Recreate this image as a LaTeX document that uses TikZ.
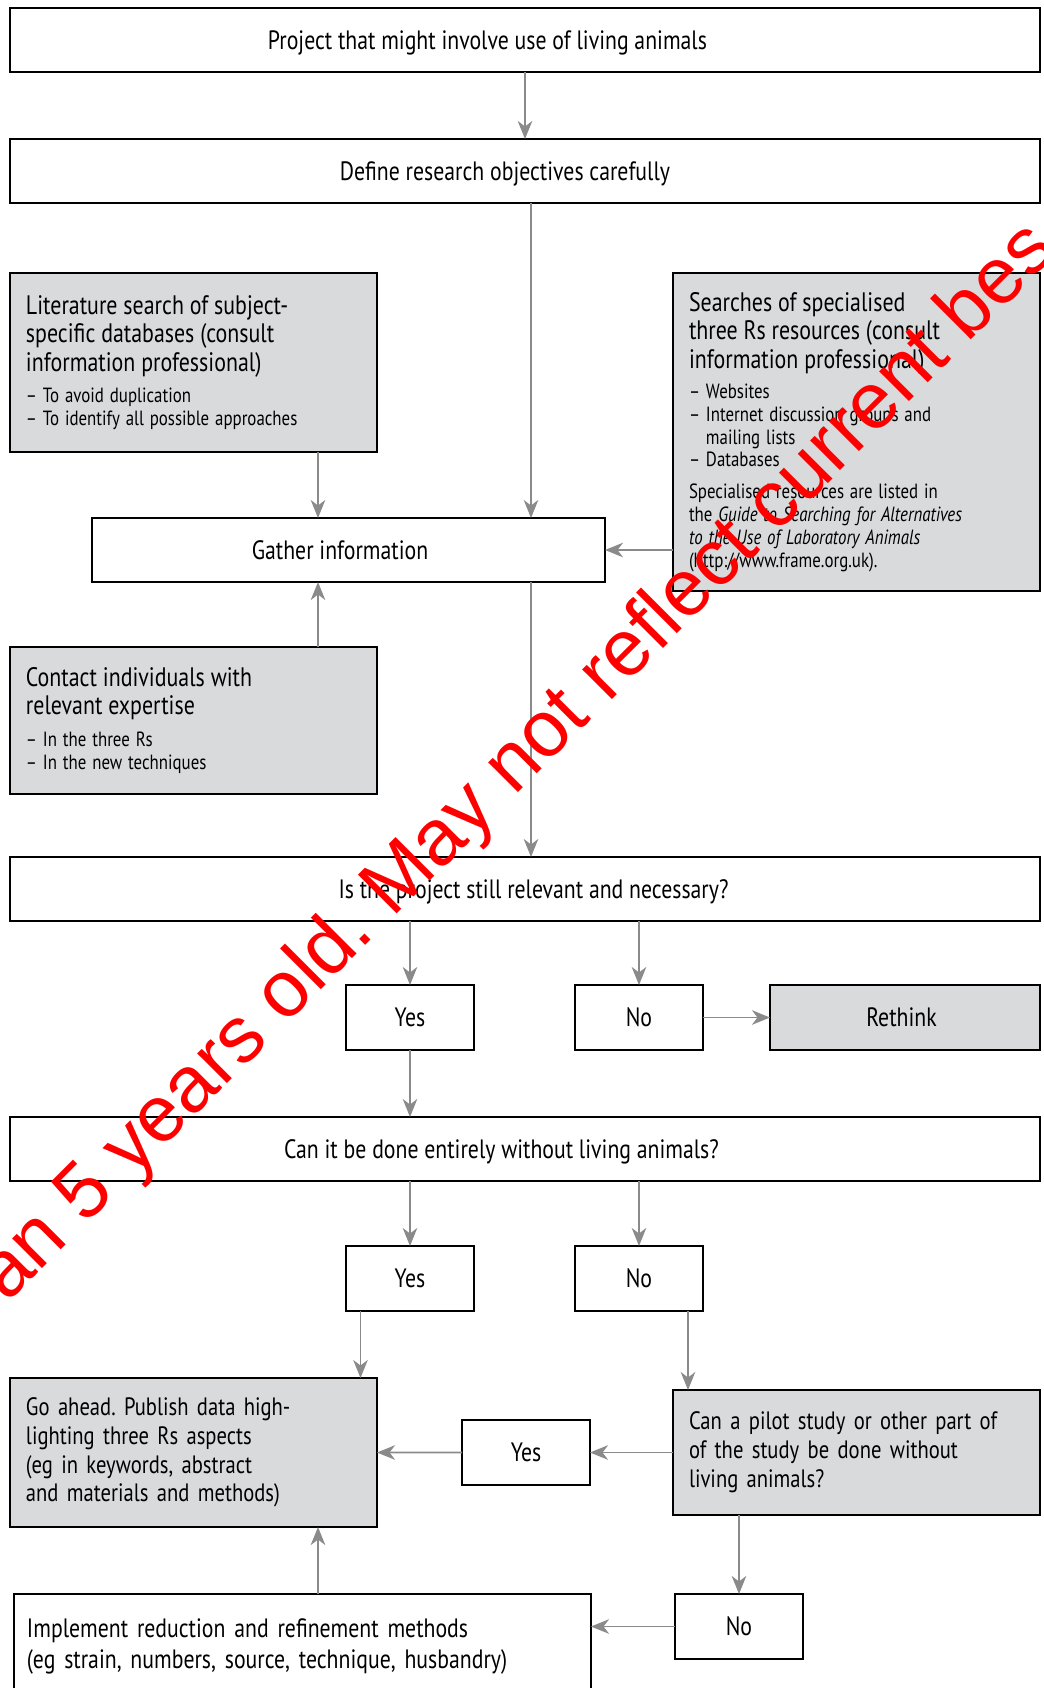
\documentclass[tikz,border=0pt]{standalone}
\usepackage{fontspec}
\setmainfont{PT Sans}[FakeStretch=0.82]
\newfontfamily\stampfont{Liberation Sans}
\usetikzlibrary{positioning,arrows.meta}
\frenchspacing

\definecolor{boxgrey}{RGB}{217,218,220}
\definecolor{arrowgrey}{RGB}{138,138,138}

\newcommand{\boxtext}{\fontsize{15.1}{17.5}\selectfont}
\newcommand{\longtext}{\fontsize{14.3}{16.4}\selectfont}
\newcommand{\headtext}{\fontsize{15.2}{16.2}\selectfont}
\newcommand{\notetext}{\fontsize{11.7}{13}\selectfont}

\begin{document}
\begin{tikzpicture}
            \useasboundingbox (0,0) rectangle (20.88,-33.76);
            % Define styles
            \tikzstyle{block} = [rectangle, draw, line width=1.3pt, outer sep=0pt, fill=white, minimum width=20.6cm, minimum height=1.28cm, text depth=0pt, text centered, font=\boxtext]
            \tikzstyle{greybox} = [rectangle, draw, line width=1.3pt, outer sep=0pt, fill=boxgrey, text width=6.7cm, inner xsep=0.32cm, align=left]
            \tikzstyle{answer} = [rectangle, draw, line width=1.3pt, outer sep=0pt, fill=white, minimum width=2.56cm, minimum height=1.3cm, text depth=0pt, text centered, font=\boxtext]
            \tikzstyle{arrow} = [line width=1.1pt, draw=arrowgrey, -{Stealth[length=3.6mm, width=2.9mm, inset=1.1mm]}]

            % TOP OF THE CHART
            \node (project) [block] at (10.5,-0.8) {\hspace*{-1.5cm}Project that might involve use of living animals};

            \node (define) [block, below=1.34cm of project] {\hspace*{-0.8cm}Define research objectives carefully};

            % Sources of information
            \node (lit) [greybox, minimum height=3.58cm, below=1.4cm of define.south west, anchor=north west]
                  {{\headtext Literature search of subject-\\ specific databases (consult\\ information professional)\par}\vspace{5pt}
                   {\notetext -- To avoid duplication\\ -- To identify all possible approaches\par}};

            \node (search) [greybox, minimum height=6.36cm, below=1.4cm of define.south east, anchor=north east]
                  {{\headtext Searches of specialised\\ three Rs resources (consult\\ information professional)\par}\vspace{4pt}
                   {\notetext -- Websites\\ -- Internet discussion groups and\\ \hphantom{-- }mailing lists\\ -- Databases\par}\vspace{5pt}
                   {\notetext Specialised resources are listed in\\ the \textit{Guide to Searching for Alternatives}\\ \textit{to the Use of Laboratory Animals}\\ (http://www.frame.org.uk).\par}};

            \node (gather) [block, minimum width=10.26cm, below=1.32cm of lit.south west, anchor=north west, xshift=1.64cm] {\hspace*{-0.34cm}Gather information};

            \node (contact) [greybox, minimum height=2.94cm, below=1.3cm of gather.south west, anchor=north west, xshift=-1.64cm]
                  {{\headtext Contact individuals with\\ relevant expertise\par}\vspace{5pt}
                   {\notetext -- In the three Rs\\ -- In the new techniques\par}};

            % First question
            \node (q1) [block, below=1.26cm of contact.south west, anchor=north west] {\hspace*{0.34cm}Is the project still relevant and necessary?};

            \node (yes1) [answer, below=1.28cm of q1, xshift=-2.3cm] {Yes};
            \node (no1) [answer, right=2.02cm of yes1] {No};
            \node (rethink) [greybox, text width=, minimum width=5.4cm, minimum height=1.3cm, text depth=0pt, text centered, font=\boxtext, right=1.34cm of no1] {\hspace*{-0.14cm}Rethink};

            % Second question
            \node (q2) [block, below=3.92cm of q1] {\hspace*{-0.94cm}Can it be done entirely without living animals?};

            \node (yes2) [answer, below=1.3cm of q2, xshift=-2.3cm] {Yes};
            \node (no2) [answer, right=2.02cm of yes2] {No};

            % OUTCOMES
            \node (goahead) [greybox, font=\longtext, minimum height=2.98cm, below=3.94cm of q2.south west, anchor=north west]
                  {Go ahead. Publish data high-\\ lighting three Rs aspects\\ (eg in keywords, abstract\\ and materials and methods)};

            \node (pilot) [greybox, font=\longtext, minimum height=2.5cm, below=4.18cm of q2.south east, anchor=north east]
                  {Can a pilot study or other part of\\ of the study be done without\\ living animals?};

            \node (yes3) [answer, left=1.66cm of pilot] {Yes};
            \node (no3) [answer, below=1.58cm of pilot.south west, anchor=north west, xshift=0.04cm] {No};

            \node (implement) [greybox, fill=white, font=\boxtext, text width=11.02cm, inner xsep=0.26cm, minimum height=2.1cm, left=1.68cm of no3.north west, anchor=north east]
                  {Implement reduction and refinement methods\\ (eg strain, numbers, source, technique, husbandry)};

            % Arrows of the upper part
            \draw [arrow] (project) -- (define);
            \draw [arrow] ([xshift=3.65cm]gather.north |- define.south) -- ([xshift=3.65cm]gather.north);
            \draw [arrow] ([xshift=-0.61cm]gather.north |- lit.south) -- ([xshift=-0.61cm]gather.north);
            \draw [arrow] (search.west |- gather.east) -- (gather.east);
            \draw [arrow] ([xshift=-0.61cm]gather.south |- contact.north) -- ([xshift=-0.61cm]gather.south);
            \draw [arrow] ([xshift=3.65cm]gather.south) -- ([xshift=3.65cm]gather.south |- q1.north);

            % Arrows of the questions
            \draw [arrow] (yes1 |- q1.south) -- (yes1);
            \draw [arrow] (no1 |- q1.south) -- (no1);
            \draw [arrow] (no1) -- (rethink);
            \draw [arrow] (yes1) -- (yes1 |- q2.north);
            \draw [arrow] (yes2 |- q2.south) -- (yes2);
            \draw [arrow] (no2 |- q2.south) -- (no2);

            % Arrows of the outcomes
            \draw [arrow] ([xshift=-0.99cm]yes2.south) -- ([xshift=-0.99cm]yes2.south |- goahead.north);
            \draw [arrow] ([xshift=0.98cm]no2.south) -- ([xshift=0.98cm]no2.south |- pilot.north);
            \draw [arrow] (pilot) -- (yes3);
            \draw [arrow] (yes3) -- (goahead);
            \draw [arrow] (no3 |- pilot.south) -- (no3);
            \draw [arrow] (no3) -- (no3 -| implement.east);
            \draw [arrow] ([xshift=2.49cm]goahead.south |- implement.north) -- ([xshift=2.49cm]goahead.south);

            % Stamp across the chart
            \node (stamp) [rotate=45, inner sep=0pt, text=red, font=\stampfont\fontsize{45.3}{50}\selectfont] at (10.37,-15.27) {an 5 years old. May not reflect current bes};

      \end{tikzpicture}
\end{document}
